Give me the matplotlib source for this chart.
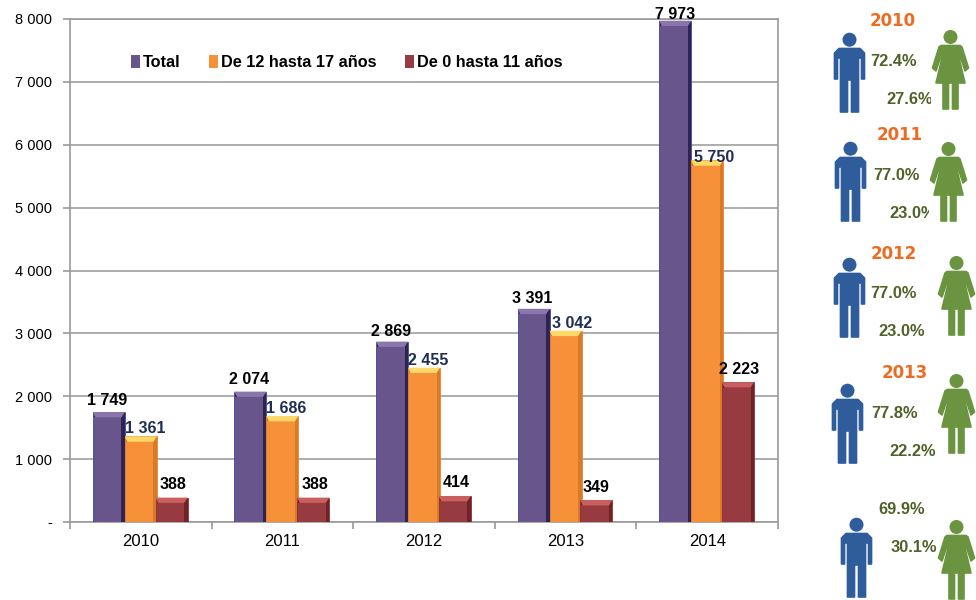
import matplotlib
matplotlib.use("Agg")
import matplotlib.pyplot as plt
from matplotlib.patches import Circle, Polygon, Rectangle

plt.rcParams['font.family'] = ['Liberation Sans', 'DejaVu Sans']

# ---- data ----
years = ['2010', '2011', '2012', '2013', '2014']
total = [1749, 2074, 2869, 3391, 7973]
teens = [1361, 1686, 2455, 3042, 5750]
kids = [388, 388, 414, 349, 2223]
y_ticks = [0, 1000, 2000, 3000, 4000, 5000, 6000, 7000, 8000]
y_labels = ['-', '1 000', '2 000', '3 000', '4 000', '5 000', '6 000', '7 000', '8 000']

men_pct = ['72.4%', '77.0%', '77.0%', '77.8%', '69.9%']
women_pct = ['27.6%', '23.0%', '23.0%', '22.2%', '30.1%']
side_titles = ['2010', '2011', '2012', '2013']

# side panel layout, in pixels of the picture
man_xy = [(834, 33), (835, 142), (834, 258), (832, 384), (841, 518)]
woman_xy = [(932, 30), (930, 142), (938, 256), (938, 374), (938, 520)]
title_xy = [(893, 21), (900, 135), (894, 254), (905, 373)]
men_txt_xy = [(870, 62), (873, 175), (870, 294), (871, 414), (878, 510)]
women_txt_xy = [(886, 100), (889, 213), (878, 332), (889, 451), (891, 548)]

# label nudges in points, per bar
total_dx, total_dy = [-1, -1, -1, -1, 0], [3, 3, 2, 2, -1]
teens_dx, teens_dy = [3, 3, 3, 5, 5], [0, 0, 0, 0, -3]
kids_dx, kids_dy = [1, 1, 1, 0, 1], [4, 4, 4, 4, 4]

BAR_W = 0.226
BEVEL_X = 0.024   # right side strip
EDGE_X = 0.007    # left side strip
BEVEL_Y = 85


def bevel_bars(ax, xs, vals, edge, side, face, cap, label):
    # dark base, then the lit face and a trapezoid cap on top
    ax.bar(xs, vals, BAR_W, color=side, edgecolor=edge, linewidth=0.6, zorder=3)
    face_w = BAR_W - BEVEL_X - EDGE_X
    face_x = [x + (EDGE_X - BEVEL_X) / 2 for x in xs]
    bars = ax.bar(face_x, [v - BEVEL_Y for v in vals], face_w, color=face, zorder=4, label=label)
    for x, v in zip(xs, vals):
        ax.fill([x - BAR_W / 2, x + BAR_W / 2, x + BAR_W / 2 - BEVEL_X, x - BAR_W / 2 + EDGE_X + 0.012],
                [v, v, v - BEVEL_Y, v - BEVEL_Y], color=cap, lw=0, zorder=5)
    return bars


def value_labels(ax, xs, vals, color, dxs, dys):
    for x, v, dx, dy in zip(xs, vals, dxs, dys):
        txt = f'{v:,}'.replace(',', ' ')
        ax.annotate(txt, (x, v), xytext=(dx, dy), textcoords='offset points', ha='center',
                    va='bottom', fontsize=11.5, fontweight='bold', color=color, zorder=6)


def draw_man(ax, x0, y0, color='#2f5d9b'):
    ax.add_patch(Circle((x0 + 15.5, y0 + 6.7), 7, color=color, lw=0))
    pts = [(5, 15.5), (26, 15.5), (30.5, 20), (30.5, 46), (27.5, 46), (27.5, 25), (24.5, 25), (24.5, 79),
           (17.5, 79), (17.5, 47), (13.5, 47), (13.5, 79), (6.5, 79), (6.5, 25), (3.5, 25), (3.5, 46),
           (0.5, 46), (0.5, 20)]
    ax.add_patch(Polygon([(x0 + a, y0 + b) for a, b in pts], closed=True, facecolor=color,
                         edgecolor=color, lw=1.2, joinstyle='round'))


def draw_woman(ax, x0, y0, color='#6a9440'):
    # white box behind the figure, it cuts the 23.0% label in 2011 like the original
    ax.add_patch(Rectangle((x0 - 1, y0), 39, 80, color='white', lw=0, zorder=3))
    ax.add_patch(Circle((x0 + 18.5, y0 + 7), 7, color=color, lw=0, zorder=4))
    pts = [(9, 15.5), (28, 15.5), (30, 17), (36.5, 38), (33, 41), (28, 26), (26.5, 26), (33, 53),
           (26, 53), (26, 79), (20.5, 79), (20.5, 53), (16.5, 53), (16.5, 79), (11, 79), (11, 53),
           (4, 53), (10.5, 26), (9, 26), (4, 41), (0.5, 38), (7, 17)]
    ax.add_patch(Polygon([(x0 + a, y0 + b) for a, b in pts], closed=True, facecolor=color,
                         edgecolor=color, lw=1.2, joinstyle='round', zorder=4))


fig = plt.figure(figsize=(9.76, 6.0), dpi=100)
ax = fig.add_axes([70 / 976, 1 - 522 / 600, 708 / 976, 503 / 600])

centers = [i + 0.5 for i in range(len(years))]
x_total = [c - BAR_W for c in centers]
x_kids = [c + BAR_W * 0.96 for c in centers]

b1 = bevel_bars(ax, x_total, total, '#3c4c9c', '#2f2352', '#67558c', '#8a76ad', 'Total')
b2 = bevel_bars(ax, centers, teens, '#e8872f', '#d97a26', '#f6913a', '#ffd86a', 'De 12 hasta 17 años')
b3 = bevel_bars(ax, x_kids, kids, '#8c3237', '#6f2327', '#983b40', '#c9605f', 'De 0 hasta 11 años')

value_labels(ax, x_total, total, 'black', total_dx, total_dy)
value_labels(ax, centers, teens, '#1f2f54', teens_dx, teens_dy)
value_labels(ax, x_kids, kids, 'black', kids_dx, kids_dy)

ax.set_xlim(0, 5)
ax.set_ylim(0, 8000)
ax.set_yticks(y_ticks)
ax.set_yticklabels(y_labels, fontsize=10.5)
ax.set_xticks(range(6))
ax.set_xticklabels([])
ax.set_xticks(centers, minor=True)
ax.set_xticklabels(years, minor=True, fontsize=12)
ax.tick_params(axis='x', which='minor', length=0, pad=9)
ax.tick_params(axis='both', which='major', length=5, color='#9a9a9a', width=1.2)
ax.tick_params(axis='y', pad=8)
ax.grid(axis='y', color='#a0a0a0', lw=1.2, zorder=0)
ax.set_axisbelow(True)
for s in ax.spines.values():
    s.set_color('#9a9a9a')
    s.set_linewidth(1.2)

leg = ax.legend(handles=[b1, b2, b3], ncol=3, frameon=False, loc='center left',
                bbox_to_anchor=(0.086, 0.913), prop={'size': 11.7, 'weight': 'bold'},
                handlelength=0.55, handleheight=0.8, handletextpad=0.2, columnspacing=1.75,
                borderpad=0, borderaxespad=0)

# side panel drawn in picture pixels
side = fig.add_axes([0, 0, 1, 1], facecolor='none')
side.set_xlim(0, 976)
side.set_ylim(600, 0)
side.axis('off')

for (x, y), t in zip(title_xy, side_titles):
    side.text(x, y, t, ha='center', va='center', fontsize=12, fontweight='bold',
              color='#ec6c24', family='DejaVu Sans')
for (x, y), t in zip(men_txt_xy, men_pct):
    side.text(x, y, t, ha='left', va='center', fontsize=11.8, fontweight='bold', color='#4f6228', zorder=2)
for (x, y), t in zip(women_txt_xy, women_pct):
    side.text(x, y, t, ha='left', va='center', fontsize=11.8, fontweight='bold', color='#4f6228', zorder=2)
for x, y in man_xy:
    draw_man(side, x, y)
for x, y in woman_xy:
    draw_woman(side, x, y)

fig.savefig('out.png', dpi=100)
